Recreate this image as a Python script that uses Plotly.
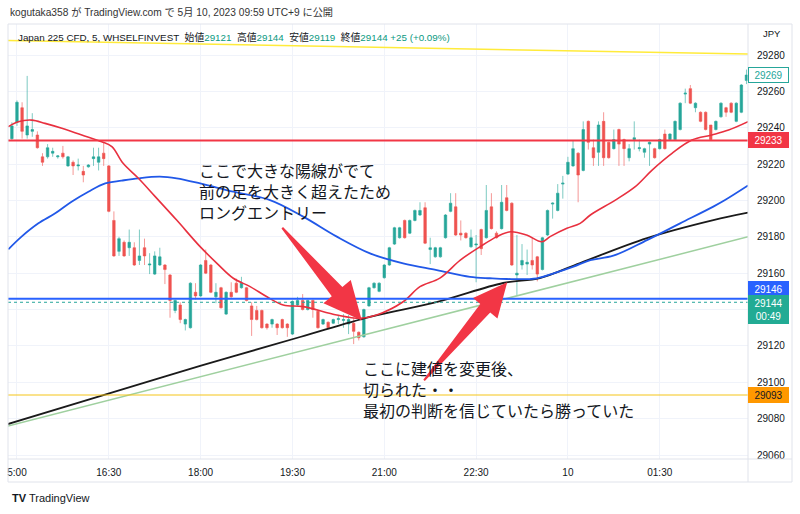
import math
from datetime import datetime, timedelta
import plotly.graph_objects as go

# ---------------- data ----------------
BASE = datetime(2023, 5, 9, 15, 0)      # candle index 0 = 15:00
STEP = timedelta(minutes=5)
FIRST_INDEX = -1                          # first visible candle is 14:55

opens = [29234, 29243, 29251, 29236, 29238, 29236, 29224, 29224, 29226, 29224,
         29226, 29219, 29221, 29219, 29216, 29218.5, 29223, 29221, 29226, 29219,
         29189, 29172, 29177, 29174, 29174, 29167, 29174, 29164.5, 29159.5, 29164.5,
         29164.5, 29159, 29139.5, 29142.5, 29132, 29130, 29149.5, 29147.5, 29167, 29164.5,
         29147, 29152, 29137.5, 29149.5, 29154.5, 29152, 29152, 29142, 29139.5, 29139.5,
         29132, 29132, 29132, 29134.5, 29132, 29126.5, 29142.5, 29145, 29140, 29145,
         29139, 29132, 29133, 29132.5, 29134.5, 29134, 29132, 29132.5, 29127.5, 29125,
         29142, 29152, 29150, 29157.5, 29164.5, 29176, 29179.5, 29189, 29182, 29189,
         29192, 29196, 29173, 29169, 29169, 29179.5, 29194, 29196.5, 29182, 29182,
         29174.5, 29175.5, 29184, 29179.5, 29196.5, 29182, 29184.5, 29201.5, 29198.5, 29159,
         29164.5, 29165, 29167, 29169, 29162, 29181, 29198, 29194.5, 29209, 29214.5,
         29219, 29226, 29216.5, 29243.5, 29229, 29226.5, 29243.5, 29232, 29228.5, 29239,
         29233.5, 29223.5, 29233.5, 29228.5, 29226.5, 29231, 29228.5, 29228.5, 29236.5, 29233.5,
         29233.5, 29239, 29258.5, 29261.5, 29251, 29248.5, 29248.5, 29241.5, 29239, 29246,
         29251, 29253.5, 29243.5, 29248.5, 29266]
highs = [29243, 29255, 29254, 29268.5, 29248, 29238, 29226, 29231, 29229, 29225,
         29230, 29224.5, 29222, 29223, 29219, 29220, 29229, 29229, 29232, 29219.5,
         29194, 29180, 29178, 29184, 29177, 29184, 29179, 29171, 29172, 29174,
         29165, 29159.5, 29145.5, 29144, 29135, 29155, 29154.5, 29165, 29173, 29165,
         29154.5, 29152.5, 29150, 29155, 29157, 29158, 29152.5, 29144, 29142, 29140,
         29132.5, 29135, 29132.5, 29135, 29132.5, 29145, 29147, 29148.5, 29145.5, 29145.5,
         29139.5, 29135, 29133.5, 29135, 29137, 29137.5, 29137, 29135.5, 29128, 29140.5,
         29152.5, 29155, 29155, 29165, 29174.5, 29185.5, 29185.5, 29189.5, 29189.5, 29195,
         29199, 29199, 29179.5, 29174.5, 29174.5, 29192.5, 29204, 29204, 29189, 29182.5,
         29184, 29181, 29184.5, 29208.5, 29204, 29183, 29208.5, 29208.5, 29199, 29181,
         29176, 29173, 29179.5, 29169.5, 29180, 29195, 29199, 29209, 29213.5, 29224,
         29233, 29226.5, 29243.5, 29244, 29233.5, 29243.5, 29248.5, 29232.5, 29239, 29239.5,
         29234, 29231, 29243.5, 29233.5, 29229, 29232.5, 29229, 29234, 29239, 29237,
         29244, 29254, 29261.5, 29263.5, 29254, 29249, 29249, 29241.5, 29244, 29254,
         29251.5, 29254, 29254, 29264, 29272]
lows = [29233, 29241, 29234, 29234, 29235, 29228.5, 29219, 29223, 29224, 29223,
        29223, 29218.5, 29214, 29216.5, 29210, 29218, 29219, 29216.5, 29219, 29193.5,
        29169, 29169.5, 29169, 29169.5, 29164, 29164.5, 29164.5, 29159.5, 29159, 29164,
        29154, 29135.5, 29138, 29132.5, 29128.5, 29129.5, 29145.5, 29147, 29159.5, 29149,
        29143.5, 29140.5, 29137, 29146.5, 29149, 29151.5, 29144.5, 29125.5, 29134, 29129.5,
        29129, 29130, 29126, 29129.5, 29125, 29126, 29142, 29139.5, 29139.5, 29135.5,
        29129.5, 29131.5, 29129.5, 29132, 29132, 29130, 29126.5, 29121, 29123, 29124.5,
        29141.5, 29151.5, 29149.5, 29157, 29164, 29175.5, 29179, 29179, 29181.5, 29188.5,
        29191.5, 29176, 29165, 29168.5, 29168.5, 29179, 29193.5, 29180.5, 29178, 29179,
        29174, 29155, 29170, 29179, 29184, 29179, 29184, 29194, 29164, 29148,
        29162, 29159, 29162, 29155.5, 29161.5, 29180.5, 29190, 29194, 29201, 29214,
        29218.5, 29199, 29216, 29228, 29219, 29219, 29219, 29223, 29228, 29219,
        29219, 29221.5, 29228, 29227, 29223.5, 29219, 29223, 29228, 29228, 29233,
        29233, 29238.5, 29253.5, 29253, 29248.5, 29243, 29238.5, 29233, 29238.5, 29245.5,
        29246, 29248, 29243, 29248, 29264]
closes = [29241, 29254, 29238, 29241, 29239, 29229, 29221, 29229, 29227, 29224.5,
          29224, 29224, 29219, 29219.5, 29214, 29219.5, 29224, 29224, 29223, 29194,
          29169.5, 29179, 29169.5, 29177, 29164.5, 29169.5, 29169.5, 29165, 29169.5, 29169,
          29162, 29145, 29145, 29134.5, 29134.5, 29154.5, 29147.5, 29164.5, 29160, 29149.5,
          29149.5, 29141, 29149.5, 29147, 29149.5, 29154.5, 29145, 29134.5, 29134.5, 29130,
          29130, 29134.5, 29130, 29130, 29130, 29144.5, 29145, 29140, 29145, 29140,
          29130, 29134.5, 29130, 29134.5, 29135, 29134.5, 29134.5, 29128, 29124.5, 29140,
          29152, 29154.5, 29154.5, 29164.5, 29174, 29185, 29185, 29179.5, 29189, 29194.5,
          29194.5, 29176.5, 29174, 29174, 29174, 29192, 29198.5, 29181, 29181, 29179.5,
          29179.5, 29176, 29173.5, 29194.5, 29184.5, 29179.5, 29199, 29194.5, 29164.5, 29160,
          29167, 29166, 29164.5, 29159.5, 29179.5, 29194.5, 29198.5, 29204, 29209.5, 29221,
          29228.5, 29214, 29239, 29232, 29223.5, 29241.5, 29223.5, 29223.5, 29233.5, 29231,
          29228.5, 29228.5, 29234.5, 29229, 29228.5, 29232, 29223.5, 29233.5, 29228.5, 29236.5,
          29243.5, 29253.5, 29259, 29253.5, 29253.5, 29243.5, 29239, 29233.5, 29243.5, 29253.5,
          29248.5, 29248.5, 29253.5, 29263.5, 29269]

# moving averages (candle index, price)
red_ma_idx = [-1.7, 0.25, 2.9, 5.5, 8.8, 12.7, 16.6, 18.6, 20.8, 23.8, 27.1, 31.3, 35.9, 39.2,
              42.4, 45.7, 49.0, 52.2, 56.1, 62.7, 67.3, 70.5, 75.7, 79.0, 82.9, 86.9, 90.8,
              94.1, 96.7, 99.9, 102.9, 104.5, 107.8, 110.4, 112.4, 117.3, 121.2, 124.5,
              128.4, 132.3, 136.2, 139.5, 143.3]
red_ma_val = [29240.6, 29243.3, 29244.2, 29242.4, 29239.7, 29236, 29232.3, 29229.6, 29220.4,
              29212.2, 29202.1, 29189.2, 29174.6, 29165.4, 29157.2, 29152.6, 29147, 29142.5,
              29141.6, 29137, 29135.2, 29137, 29144.3, 29152.6, 29157.3, 29167.2, 29174.6,
              29180.1, 29182.8, 29181, 29177.3, 29180.1, 29184.7, 29187.4, 29192, 29200.2,
              29207.6, 29216.7, 29225.9, 29233.2, 29236, 29238.7, 29243.3]
blue_ma_idx = [-1.7, 0.9, 4.2, 7.5, 10.7, 14.0, 17.3, 20.5, 23.8, 28.0, 31.3, 35.9, 42.4, 49.6,
               56.1, 62.7, 69.2, 75.7, 82.3, 88.8, 92.7, 96.0, 101.9, 105.2, 109.1, 112.4,
               116.9, 123.5, 130.0, 136.5, 138.8, 143.3]
blue_ma_val = [29173.1, 29180.1, 29187.4, 29192.9, 29199.3, 29204.8, 29209.4, 29210.9, 29212.2,
               29213.1, 29212.2, 29209.4, 29204.8, 29200.2, 29191.1, 29180.1, 29170.9, 29165.4,
               29161.7, 29158, 29157.2, 29156.8, 29157.2, 29159.9, 29163.6, 29167.2, 29169.6,
               29178.2, 29187.4, 29196.6, 29200.2, 29208.2]
black_ma_idx = [-1.8, 16.3, 35.9, 55.5, 69.2, 82.4, 95.3, 102.5, 110.4, 123.5, 136.5, 143.3]
black_ma_val = [29077, 29092.4, 29109, 29124.9, 29136, 29144.2, 29154.6, 29157.3, 29165.6,
                29179.3, 29189.2, 29193.3]

# drawn trend lines (end points) and horizontal levels
green_trend_idx = [-1.76, 143.3]
green_trend_val = [29076, 29180]
yellow_trend_idx = [-1.76, 143.3]
yellow_trend_val = [29288, 29280.5]
RED_LEVEL = 29233
BLUE_LEVEL = 29146
YELLOW_LEVEL = 29093
LAST_PRICE = 29144
HIGH_LABEL = 29269

x_tick_idx = [0, 18, 36, 54, 72, 90, 108, 126]
x_tick_text = ["5:00", "16:30", "18:00", "19:30", "21:00", "22:30", "10", "01:30"]
y_tick_vals = list(range(29060, 29281, 20))
y_tick_text = ["" if v == 29140 else str(v) for v in y_tick_vals]

note1 = ["ここで大きな陽線がでて", "前の足を大きく超えたため", "ロングエントリー"]
note2 = ["ここに建値を変更後、", "切られた・・", "最初の判断を信じていたら勝っていた"]

# ---------------- layout geometry ----------------
W, H = 800, 514
PL, PR, PT, PB = 8, 748, 24, 459
X_LO, X_HI = -1.76, 143.3
Y_LO, Y_HI = 29057.8, 29297.05


def t(i):
    return BASE + STEP * i


def to_px(i, p):
    return (PL + (i - X_LO) / (X_HI - X_LO) * (PR - PL),
            PB - (p - Y_LO) / (Y_HI - Y_LO) * (PB - PT))


def paper(px, py):
    return (px - PL) / (PR - PL), (PB - py) / (PB - PT)


def arrow_path(tail, tip, head_len, head_half, shaft_head, shaft_tail):
    x0, y0 = to_px(*tail)
    x1, y1 = to_px(*tip)
    L = math.hypot(x1 - x0, y1 - y0)
    ux, uy = (x1 - x0) / L, (y1 - y0) / L
    nx, ny = -uy, ux
    bx, by = x1 - ux * head_len, y1 - uy * head_len
    pts = [(x0 + nx * shaft_tail, y0 + ny * shaft_tail),
           (bx + nx * shaft_head, by + ny * shaft_head),
           (bx + nx * head_half, by + ny * head_half),
           (x1, y1),
           (bx - nx * head_half, by - ny * head_half),
           (bx - nx * shaft_head, by - ny * shaft_head),
           (x0 - nx * shaft_tail, y0 - ny * shaft_tail)]
    pp = [paper(a, b) for a, b in pts]
    return "M " + " L ".join(f"{a:.5f},{b:.5f}" for a, b in pp) + " Z"


times = [t(FIRST_INDEX + k) for k in range(len(opens))]

UP = "#26a69a"
DOWN = "#ef5350"
GRID = "#f0f3fa"
FRAME = "#e0e3eb"
TXT = "#131722"
AX_FONT = dict(family="Liberation Sans, Arial, sans-serif", size=10, color=TXT)

fig = go.Figure()

fig.add_trace(go.Scatter(x=[t(i) for i in yellow_trend_idx], y=yellow_trend_val, mode="lines",
                         line=dict(color="#ffeb3b", width=1.5), hoverinfo="skip"))
fig.add_trace(go.Scatter(x=[t(i) for i in green_trend_idx], y=green_trend_val, mode="lines",
                         line=dict(color="#9fd09f", width=1.5), hoverinfo="skip"))
fig.add_trace(go.Scatter(x=[t(i) for i in black_ma_idx], y=black_ma_val, mode="lines",
                         line=dict(color="#1a1a1a", width=1.8, shape="spline"), hoverinfo="skip"))
fig.add_trace(go.Scatter(x=[t(i) for i in blue_ma_idx], y=blue_ma_val, mode="lines",
                         line=dict(color="#2158e8", width=1.8, shape="spline"), hoverinfo="skip"))

fig.add_trace(go.Candlestick(
    x=times, open=opens, high=highs, low=lows, close=closes,
    increasing=dict(line=dict(color="rgba(38,166,154,0.6)", width=1), fillcolor=UP),
    decreasing=dict(line=dict(color="rgba(239,83,80,0.6)", width=1), fillcolor=DOWN),
    hoverinfo="skip", showlegend=False))

fig.add_trace(go.Scatter(x=[t(i) for i in red_ma_idx], y=red_ma_val, mode="lines",
                         line=dict(color="#e8303f", width=1.6, shape="spline"), hoverinfo="skip"))

shapes = [
    dict(type="line", xref="paper", x0=0, x1=1, yref="y", y0=RED_LEVEL, y1=RED_LEVEL,
         line=dict(color="#f23645", width=2)),
    dict(type="line", xref="paper", x0=0, x1=1, yref="y", y0=BLUE_LEVEL, y1=BLUE_LEVEL,
         line=dict(color="#2962ff", width=2)),
    dict(type="line", xref="paper", x0=0, x1=1, yref="y", y0=YELLOW_LEVEL, y1=YELLOW_LEVEL,
         line=dict(color="#f5c518", width=1)),
    dict(type="line", xref="paper", x0=0, x1=1, yref="y", y0=LAST_PRICE, y1=LAST_PRICE,
         line=dict(color=UP, width=1, dash="dot")),
]

# red arrows
shapes.append(dict(type="path", xref="paper", yref="paper",
                   path=arrow_path((52.0, 29185), (67.6, 29134), 38, 18, 7, 1),
                   fillcolor="#f23645", line=dict(width=0)))
shapes.append(dict(type="path", xref="paper", yref="paper",
                   path=arrow_path((79.8, 29101), (96.1, 29155), 34, 16, 6.5, 1),
                   fillcolor="#f23645", line=dict(width=0)))

# frame lines
def hline_px(y, x0=PL, x1=792):
    a, b = paper(x0, y)
    c, _ = paper(x1, y)
    return dict(type="line", xref="paper", yref="paper", x0=a, x1=c, y0=b, y1=b,
                line=dict(color=FRAME, width=1))


def vline_px(x, y0=PT, y1=482):
    a, b = paper(x, y0)
    _, d = paper(x, y1)
    return dict(type="line", xref="paper", yref="paper", x0=a, x1=a, y0=b, y1=d,
                line=dict(color=FRAME, width=1))


shapes += [hline_px(PT), hline_px(PB), hline_px(482), vline_px(PL), vline_px(PR), vline_px(792)]

annotations = []


def text_px(x, y, text, size, color=TXT, family="Liberation Sans, Arial, Noto Sans CJK JP",
            xanchor="left", align="left"):
    a, b = paper(x, y)
    annotations.append(dict(xref="paper", yref="paper", x=a, y=b, text=text, showarrow=False,
                            xanchor=xanchor, yanchor="middle", align=align,
                            font=dict(family=family, size=size, color=color)))


text_px(8, 12, "kogutaka358 が TradingView.com で 5月 10, 2023 09:59 UTC+9 に公開", 10.2,
        color="#333333")
g = "#089981"
hdr = ("Japan 225 CFD, 5, WHSELFINVEST&nbsp;&nbsp;始値<span style='color:%s'>29121</span>"
       "&nbsp;&nbsp;高値<span style='color:%s'>29144</span>&nbsp;&nbsp;安値<span style='color:%s'>29119</span>"
       "&nbsp;&nbsp;終値<span style='color:%s'>29144</span>&nbsp;<span style='color:%s'>+25 (+0.09%%)</span>"
       % (g, g, g, g, g))
text_px(16, 37, hdr, 9.8)
text_px(772, 33, "JPY", 9.5, xanchor="center")
text_px(10, 498, "<b>TV</b> TradingView", 11, color="#131722")

jp = "Noto Sans CJK JP"
text_px(197, 191, "<br>".join(note1), 16, family=jp)
text_px(361, 389, "<br>".join(note2), 16, family=jp)


def price_label(val, bg, fg, text=None, yshift=0, border=None, height=12):
    annotations.append(dict(xref="paper", x=1, xanchor="left", xshift=0, yref="y", y=val,
                            yanchor="middle", yshift=yshift, text=text or str(val),
                            showarrow=False, bgcolor=bg, bordercolor=border or bg,
                            borderwidth=1, borderpad=1, width=37, height=height,
                            align="center", font=dict(family=AX_FONT["family"], size=10, color=fg)))


price_label(HIGH_LABEL, "white", UP, border=UP)
price_label(RED_LEVEL, "#f23645", "white")
price_label(BLUE_LEVEL, "#2962ff", "white", yshift=10)
price_label(LAST_PRICE, "#22ab94", "white", text="%d<br>00:49" % LAST_PRICE, yshift=-7, height=25)
price_label(YELLOW_LEVEL, "#ff9800", TXT)

fig.update_layout(
    width=W, height=H,
    margin=dict(l=PL, r=W - PR, t=PT, b=H - PB),
    paper_bgcolor="white", plot_bgcolor="white",
    showlegend=False, hovermode=False,
    shapes=shapes, annotations=annotations,
    xaxis=dict(type="date", range=[t(X_LO), t(X_HI)], rangeslider=dict(visible=False),
               tickvals=[t(i) for i in x_tick_idx], ticktext=x_tick_text,
               showgrid=True, gridcolor=GRID, gridwidth=1, zeroline=False, showline=False,
               ticks="outside", ticklen=4, tickcolor="rgba(0,0,0,0)", tickfont=AX_FONT,
               fixedrange=True),
    yaxis=dict(side="right", range=[Y_LO, Y_HI], tickvals=y_tick_vals, ticktext=y_tick_text,
               showgrid=True, gridcolor=GRID, gridwidth=1, zeroline=False, showline=False,
               ticks="outside", ticklen=6, tickcolor="rgba(0,0,0,0)", tickfont=AX_FONT,
               fixedrange=True),
    boxgap=0.3,
)

fig.write_html("out.html", config={"displayModeBar": False})
